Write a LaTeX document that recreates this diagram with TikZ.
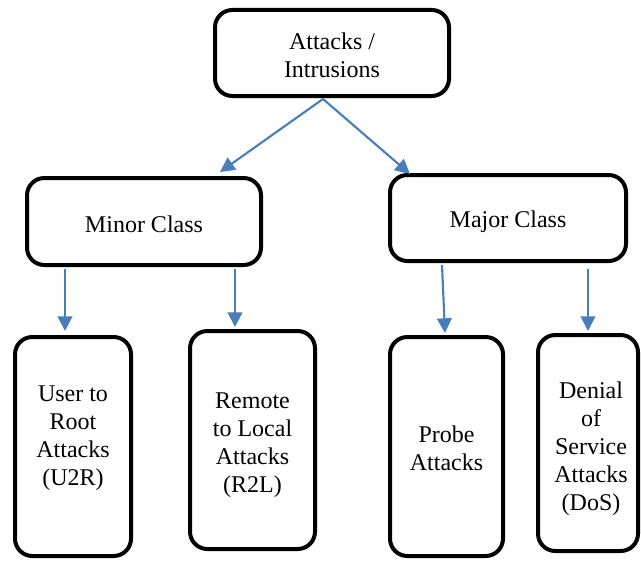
\documentclass[tikz,border=0pt]{standalone}
\usepackage{fontspec}
\setmainfont{Liberation Serif}
\usetikzlibrary{arrows.meta,calc}
\definecolor{arrowblue}{HTML}{4A7EBB}
\begin{document}
\begin{tikzpicture}[x=0.75pt,y=-0.75pt,
  box/.style={draw=black, line width=3pt, rounded corners=13pt, inner sep=0pt},
  txt/.style={align=center, inner sep=0pt, font=\fontsize{18}{21}\selectfont},
  conn/.style={draw=arrowblue, line width=1.6pt,
    -{Triangle[length=11pt,width=11pt]}, arrowblue}]
\useasboundingbox (0,0) rectangle (641,560);
\node[box, minimum width=175.5pt, minimum height=64.5pt] (top) at (332,53) {};
\node[txt] (topt) at (332,55.5) {Attacks /\\Intrusions};
\node[box, minimum width=175.5pt, minimum height=65.25pt] (minor) at (144,221.5) {};
\node[txt] (minort) at (144,224.5) {Minor Class};
\node[box, minimum width=177pt, minimum height=64.5pt] (major) at (508,218) {};
\node[txt] (majort) at (508,222) {Major Class};
\node[box, minimum width=87pt, minimum height=164.25pt] (u2r) at (73,446.5) {};
\node[txt] (u2rt) at (73,438) {User to\\Root\\Attacks\\(U2R)};
\node[box, minimum width=93.75pt, minimum height=163.5pt] (r2l) at (252.5,440) {};
\node[txt] (r2lt) at (252.5,445) {Remote\\to Local\\Attacks\\(R2L)};
\node[box, minimum width=84.75pt, minimum height=164.25pt] (probe) at (446.5,446.5) {};
\node[txt] (probet) at (446.5,448.5) {Probe\\Attacks};
\node[box, minimum width=75pt, minimum height=162pt] (dos) at (588,443) {};
\node[txt] (dost) at (591,449) {Denial\\of\\Service\\Attacks\\(DoS)};
\coordinate (s0) at ($(top.south)+(-9,1)$);
\coordinate (e1) at ($(minor.north)+(76,-4)$);
\coordinate (e2) at ($(major.north)+(-98,1)$);
\coordinate (s3) at ($(minor.south)+(-79,2)$);
\coordinate (e3) at ($(u2r.north)+(-8,-4)$);
\coordinate (s4) at ($(minor.south)+(91,2)$);
\coordinate (e4) at ($(r2l.north)+(-17.5,-2)$);
\coordinate (s5) at ($(major.south)+(-66,2)$);
\coordinate (e5) at ($(probe.north)+(-1.5,-2)$);
\coordinate (s6) at ($(major.south)+(80,6)$);
\coordinate (e6) at ($(dos.north)+(0,-2)$);
\draw[conn] (s0) -- (e1);
\draw[conn] (s0) -- (e2);
\draw[conn] (s3) -- (e3);
\draw[conn] (s4) -- (e4);
\draw[conn] (s5) -- (e5);
\draw[conn] (s6) -- (e6);
\end{tikzpicture}
\end{document}
